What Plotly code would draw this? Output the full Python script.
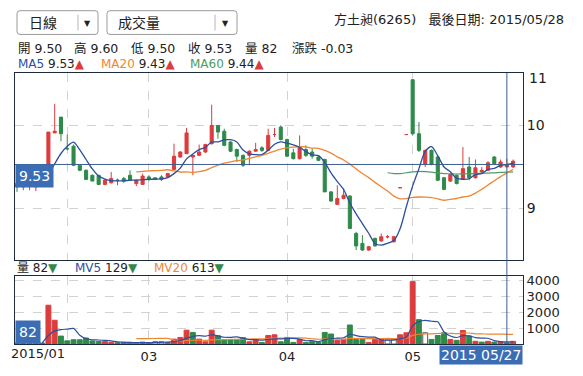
import plotly.graph_objects as go
import pandas as pd

# ---------------- data ----------------
dates = (
    ["2015/01/%02d" % d for d in [21, 22, 23, 26, 27, 28, 29, 30]]
    + ["2015/02/%02d" % d for d in [2, 3, 4, 5, 6, 9, 10, 11, 12, 13, 24, 25, 26]]
    + ["2015/03/%02d" % d for d in [2, 3, 4, 5, 6, 9, 10, 11, 12, 13, 16, 17, 18, 19, 20, 23, 24, 25, 26, 27, 30, 31]]
    + ["2015/04/%02d" % d for d in [1, 2, 7, 8, 9, 10, 13, 14, 15, 16, 17, 20, 21, 22, 23, 24, 27, 28, 29, 30]]
    + ["2015/05/%02d" % d for d in [4, 5, 6, 7, 8, 11, 12, 14, 15, 18, 19, 21, 22, 25, 26, 27, 28]]
)

opens = [9.30, 9.30, 9.27, 9.26, 9.29, 9.27, 9.91, 10.10, 9.72, 9.75,
         9.52, 9.46, 9.40, 9.40, 9.29, 9.31, 9.34, 9.36, 9.40, 9.30,
         9.29, 9.38, 9.37, 9.38, 9.38, 9.47, 9.62, 9.66, 9.62, 9.64,
         9.68, 9.78, 10.00, 9.93, 9.80, 9.71, 9.64, 9.64, 9.69, 9.73,
         9.70, 9.89, 9.98, 9.83, 9.67, 9.60, 9.71, 9.68, 9.62, 9.59,
         9.20, 9.05, 9.12, 9.15, 8.70, 8.58, 8.50, 8.64, 8.61, 8.66,
         8.60, 9.25, 9.89, 10.55, 9.90, 9.53, 9.70, 9.62, 9.37, 9.33,
         9.40, 9.36, 9.50, 9.37, 9.44, 9.46, 9.62, 9.50, 9.50, 9.50]
highs = [9.30, 9.30, 9.29, 9.31, 9.29, 9.92, 10.26, 10.10, 9.89, 9.77,
         9.53, 9.47, 9.41, 9.40, 9.35, 9.44, 9.36, 9.38, 9.46, 9.35,
         9.42, 9.40, 9.37, 9.40, 9.43, 9.78, 9.69, 9.97, 9.64, 9.77,
         9.78, 10.25, 10.00, 9.96, 9.81, 9.72, 9.65, 9.70, 9.79, 9.75,
         9.96, 9.97, 10.00, 9.84, 9.72, 9.88, 9.76, 9.72, 9.63, 9.60,
         9.21, 9.28, 9.24, 9.16, 8.72, 8.68, 8.55, 8.65, 8.70, 8.68,
         8.67, 9.25, 9.89, 10.55, 10.04, 9.71, 9.71, 9.64, 9.38, 9.42,
         9.41, 9.74, 9.62, 9.59, 9.50, 9.57, 9.63, 9.59, 9.60, 9.59]
lows = [9.20, 9.22, 9.22, 9.21, 9.26, 9.27, 9.91, 9.81, 9.70, 9.51,
        9.45, 9.35, 9.33, 9.28, 9.28, 9.30, 9.28, 9.31, 9.33, 9.27,
        9.29, 9.33, 9.35, 9.33, 9.37, 9.46, 9.61, 9.66, 9.40, 9.63,
        9.67, 9.77, 9.84, 9.75, 9.68, 9.56, 9.50, 9.52, 9.68, 9.68,
        9.69, 9.86, 9.82, 9.62, 9.59, 9.59, 9.62, 9.60, 9.57, 9.20,
        9.08, 9.04, 9.11, 8.76, 8.50, 8.49, 8.49, 8.54, 8.60, 8.64,
        8.59, 9.25, 9.89, 9.88, 9.68, 9.50, 9.52, 9.33, 9.22, 9.32,
        9.29, 9.35, 9.34, 9.36, 9.42, 9.45, 9.54, 9.49, 9.50, 9.49]
closes = [9.26, 9.26, 9.28, 9.29, 9.27, 9.92, 9.93, 9.90, 9.72, 9.52,
          9.46, 9.35, 9.33, 9.29, 9.34, 9.36, 9.34, 9.33, 9.34, 9.34,
          9.39, 9.35, 9.35, 9.35, 9.42, 9.63, 9.68, 9.91, 9.64, 9.68,
          9.77, 10.00, 9.92, 9.76, 9.69, 9.63, 9.52, 9.69, 9.71, 9.70,
          9.88, 9.89, 9.83, 9.63, 9.60, 9.73, 9.64, 9.63, 9.58, 9.20,
          9.09, 9.12, 9.16, 8.76, 8.55, 8.50, 8.54, 8.55, 8.66, 8.66,
          8.66, 9.25, 9.89, 9.90, 9.70, 9.70, 9.53, 9.34, 9.23, 9.41,
          9.30, 9.48, 9.37, 9.49, 9.46, 9.55, 9.54, 9.56, 9.53, 9.57]
volumes = [60, 40, 80, 60, 60, 2450, 1500, 500, 200, 270,
           270, 380, 190, 160, 150, 100, 80, 80, 100, 60,
           120, 80, 140, 140, 100, 310, 415, 875, 730, 310,
           140, 875, 520, 280, 280, 280, 400, 140, 280, 100,
           540, 580, 140, 415, 100, 280, 100, 150, 100, 730,
           630, 230, 290, 1200, 290, 290, 100, 290, 290, 250,
           305, 580, 710, 3940, 1540, 710, 290, 540, 710, 290,
           230, 850, 500, 170, 120, 170, 120, 153, 82, 170]

stock_name = "方土昶(6265)"
cursor_idx = 78          # crosshair day (2015/05/27)
month_labels = ["2015/01", "03", "04", "05"]
price_ticks = [9, 10]
vol_ticks = [1000, 2000, 3000, 4000]

# ---------------- derived ----------------
c = pd.Series(closes)
v = pd.Series(volumes)
ma5, ma20, ma60 = c.rolling(5).mean(), c.rolling(20).mean(), c.rolling(60).mean()
mv5, mv20 = v.rolling(5).mean(), v.rolling(20).mean()

RED = "#dc3c3c"
GREEN = "#2f8a4a"
BLUE = "#2c4f9e"
ORANGE = "#ef8633"
MAGREEN = "#4e9c63"
CROSS = "#3c5f92"
LABEL_BG = "#3a6db3"
FONT = "DejaVu Sans, Noto Sans CJK TC, sans-serif"

vol_fill, vol_line = [], []
for k in range(len(closes)):
    prev = closes[k - 1] if k > 0 else opens[k]
    if closes[k] > prev:
        vol_fill.append(RED); vol_line.append(RED)
    elif closes[k] < prev:
        vol_fill.append(GREEN); vol_line.append(GREEN)
    else:
        vol_fill.append("white"); vol_line.append("#555555")

month_starts = [dates[k] for k in range(1, len(dates)) if dates[k][:7] != dates[k - 1][:7]]

fig = go.Figure()
fig.add_trace(go.Candlestick(
    x=dates, open=opens, high=highs, low=lows, close=closes,
    increasing=dict(line=dict(color=RED, width=1), fillcolor=RED),
    decreasing=dict(line=dict(color=GREEN, width=1), fillcolor=GREEN),
    whiskerwidth=0, xaxis="x", yaxis="y", showlegend=False, hoverinfo="skip"))
for s, col, w in [(ma60, MAGREEN, 1.2), (ma20, ORANGE, 1.3), (ma5, BLUE, 1.3)]:
    fig.add_trace(go.Scatter(x=dates, y=s, mode="lines", line=dict(color=col, width=w, shape="spline", smoothing=0.8),
                             xaxis="x", yaxis="y", showlegend=False, hoverinfo="skip", connectgaps=False))

fig.add_trace(go.Bar(x=dates, y=volumes, marker=dict(color=vol_fill, line=dict(color=vol_line, width=1)),
                     xaxis="x2", yaxis="y2", showlegend=False, hoverinfo="skip"))
for s, col in [(mv20, ORANGE), (mv5, BLUE)]:
    fig.add_trace(go.Scatter(x=dates, y=s, mode="lines", line=dict(color=col, width=1.2, shape="spline", smoothing=0.6),
                             xaxis="x2", yaxis="y2", showlegend=False, hoverinfo="skip"))

# ---------------- layout geometry ----------------
W, H = 583, 376
L, R, T, B = 15, 523, 73, 347
MAIN_BOTTOM, VOL_TOP = 262, 278
def px(x): return (x - L) / (R - L)
def py(y): return (B - y) / (B - T)

xr = [-0.32, len(dates) + 0.57]
axis_line = dict(showline=True, linecolor="#1d2b3c", linewidth=1, mirror=True)
grid = dict(showgrid=True, gridcolor="#d2d2d2", griddash="dash", gridwidth=1)

fig.update_layout(
    width=W, height=H,
    margin=dict(l=L, r=W - R, t=T, b=H - B),
    paper_bgcolor="white", plot_bgcolor="white",
    font=dict(family=FONT, size=12, color="#222"),
    bargap=0.22,
    xaxis=dict(domain=[0, 1], anchor="y", type="category", range=xr, rangeslider=dict(visible=False),
               tickvals=month_starts, ticktext=[""] * len(month_starts), ticks="", zeroline=False,
               **grid, **axis_line),
    yaxis=dict(domain=[py(MAIN_BOTTOM), 1], anchor="x", side="right", range=[8.381, 10.631],
               tickvals=price_ticks, ticks="", zeroline=False, tickfont=dict(size=14),
               **grid, **axis_line),
    xaxis2=dict(domain=[0, 1], anchor="y2", type="category", range=xr, matches="x",
                tickvals=month_starts, ticktext=[""] + month_labels[1:], ticks="", zeroline=False,
                tickfont=dict(size=13), **grid, **axis_line),
    yaxis2=dict(domain=[0, py(VOL_TOP)], anchor="x2", side="right", range=[0, 4312],
                tickvals=vol_ticks, ticks="", zeroline=False, tickfont=dict(size=13),
                **grid, **axis_line),
)

# crosshair
cur = dates[cursor_idx]
fig.add_shape(type="line", xref="x", yref="y", x0=-0.5, x1=len(dates) + 1, y0=closes[cursor_idx], y1=closes[cursor_idx],
              line=dict(color=CROSS, width=1))
fig.add_shape(type="line", xref="x", yref="paper", x0=cur, x1=cur, y0=0, y1=1, line=dict(color=CROSS, width=1))

anns = []
def text(x, y, s, size=12, color="#222", anchor="left", **kw):
    anns.append(dict(xref="paper", yref="paper", x=px(x), y=py(y), text=s, showarrow=False,
                     xanchor=anchor, yanchor="middle", font=dict(size=size, color=color, family=FONT), **kw))

# dropdowns
def rbox(x0, y0, x1, y1, r=3):
    X0, X1, Y0, Y1 = px(x0), px(x1), py(y0), py(y1)
    rx, ry = r / (R - L), r / (B - T)
    path = (f"M{X0+rx},{Y0} L{X1-rx},{Y0} Q{X1},{Y0} {X1},{Y0-ry} L{X1},{Y1+ry} Q{X1},{Y1} {X1-rx},{Y1} "
            f"L{X0+rx},{Y1} Q{X0},{Y1} {X0},{Y1+ry} L{X0},{Y0-ry} Q{X0},{Y0} {X0+rx},{Y0} Z")
    fig.add_shape(type="path", xref="paper", yref="paper", path=path, line=dict(color="#9a9a9a", width=1),
                  fillcolor="white")
rbox(17, 10, 98, 34)
rbox(107, 10, 237, 34)
for sx in (78, 215):
    fig.add_shape(type="line", xref="paper", yref="paper", x0=px(sx), x1=px(sx), y0=py(14), y1=py(30),
                  line=dict(color="#b5b5b5", width=1))
text(27, 22, "日線", 14)
text(87, 23, "▼", 8, anchor="center")
text(116, 22, "成交量", 14)
text(225, 23, "▼", 8, anchor="center")

text(566, 19, f"{stock_name}&nbsp;&nbsp;&nbsp;最後日期: {dates[-1]}", 13, anchor="right")

# OHLC row
chg = closes[cursor_idx] - closes[cursor_idx - 1]
row = [(16, f"開 {opens[cursor_idx]:.2f}"), (72, f"高 {highs[cursor_idx]:.2f}"), (129, f"低 {lows[cursor_idx]:.2f}"),
       (186, f"收 {closes[cursor_idx]:.2f}"), (243, f"量 {volumes[cursor_idx]}"), (290, f"漲跌 {chg:.2f}")]
for x, s in row:
    text(x, 48, s, 12.5)

def tri(cur_v, prev_v):
    return f"<span style='color:{RED}'>▲</span>" if cur_v >= prev_v else f"<span style='color:{GREEN}'>▼</span>"

i = cursor_idx
text(16, 64, f"<span style='color:{BLUE}'>MA5</span> {ma5[i]:.2f}{tri(ma5[i], ma5[i-1])}", 12)
text(99, 64, f"<span style='color:{ORANGE}'>MA20</span> {ma20[i]:.2f}{tri(ma20[i], ma20[i-1])}", 12)
text(188, 64, f"<span style='color:{MAGREEN}'>MA60</span> {ma60[i]:.2f}{tri(ma60[i], ma60[i-1])}", 12)

text(15, 270, f"量 {volumes[i]}{tri(volumes[i], volumes[i-1])}", 12)
text(73, 270, f"<span style='color:{BLUE}'>MV5</span> {mv5[i]:.0f}{tri(mv5[i], mv5[i-1])}", 12)
text(152, 270, f"<span style='color:{ORANGE}'>MV20</span> {mv20[i]:.0f}{tri(mv20[i], mv20[i-1])}", 12)

# top price label "11"
text(527, 78, "11", 14)

# first month label
anns.append(dict(xref="x2", yref="paper", x=month_starts[0], y=py(357), text=month_labels[0], showarrow=False,
                 xanchor="right", yanchor="middle", font=dict(size=13, color="#222", family=FONT)))

# crosshair labels
anns.append(dict(xref="paper", yref="y", x=0, y=closes[i], text=f"{closes[i]:.2f}", showarrow=False,
                 xanchor="left", yanchor="top", bgcolor=LABEL_BG, borderpad=3,
                 font=dict(size=14, color="white", family=FONT)))
anns.append(dict(xref="paper", yref="y2", x=0, y=0, text=f"{volumes[i]}", showarrow=False,
                 xanchor="left", yanchor="bottom", bgcolor=LABEL_BG, borderpad=3,
                 font=dict(size=14, color="white", family=FONT)))
d = dates[i]
anns.append(dict(xref="paper", yref="paper", x=1, y=py(348), text=f"{d[:4]} {d[5:]}", showarrow=False,
                 xanchor="right", yanchor="top", bgcolor=LABEL_BG, borderpad=1,
                 font=dict(size=14, color="white", family=FONT)))

fig.update_layout(annotations=anns)
fig.write_html("out.html", config={"displayModeBar": False},
               post_script="document.body.style.margin='0';")
